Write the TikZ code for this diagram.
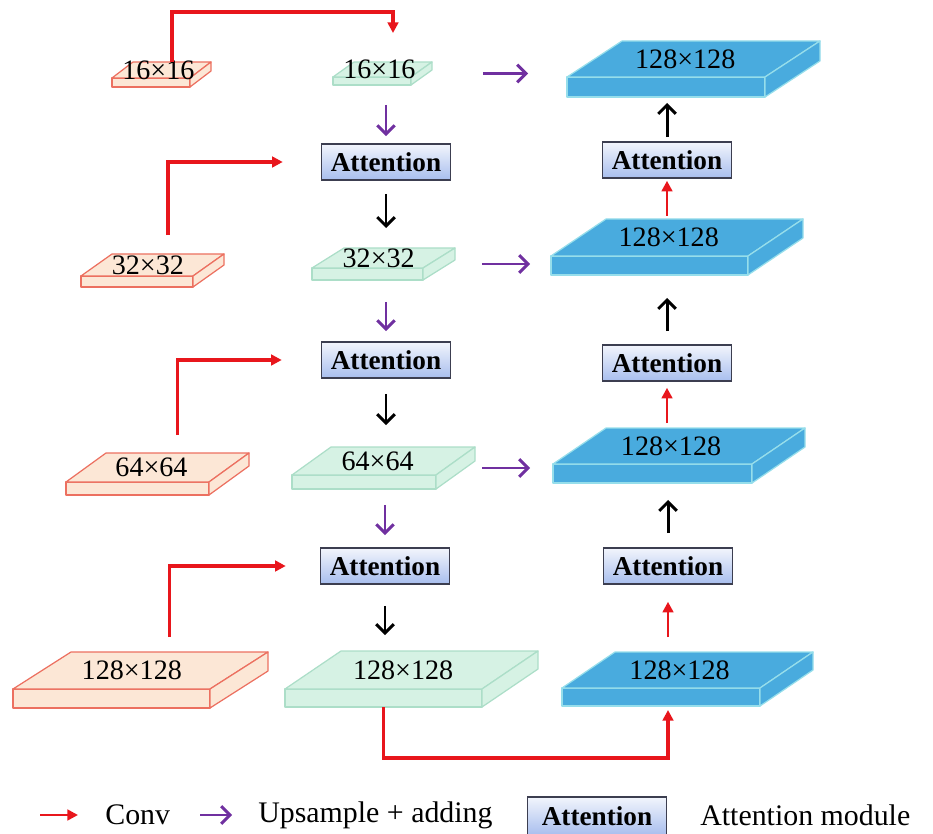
\documentclass[tikz,border=0pt]{standalone}
\usepackage{fontspec}
\setmainfont{Liberation Serif}
\usetikzlibrary{arrows.meta}
\usetikzlibrary{calc}
\usetikzlibrary{positioning}

\definecolor{orfill}{RGB}{252,231,214}
\definecolor{ordraw}{RGB}{236,112,96}
\definecolor{grfill}{RGB}{214,242,228}
\definecolor{grdraw}{RGB}{172,222,200}
\definecolor{blfill}{RGB}{73,171,222}
\definecolor{bldraw}{RGB}{150,222,235}
\definecolor{convred}{RGB}{232,22,28}
\definecolor{upspurple}{RGB}{112,48,160}
\definecolor{attdraw}{RGB}{60,62,80}
\definecolor{atttop}{RGB}{242,245,252}
\definecolor{attbot}{RGB}{168,190,238}

\tikzset{
  orslab/.style={fill=orfill,draw=ordraw,line width=0.7pt,line join=round},
  grslab/.style={fill=grfill,draw=grdraw,line width=0.7pt,line join=round},
  blslab/.style={fill=blfill,draw=bldraw,line width=0.7pt,line join=round},
  slabtext/.style={inner sep=0pt,font=\fontsize{16}{18}\selectfont},
  attbox/.style={draw=attdraw,line width=0.9pt,top color=atttop,bottom color=attbot,
    minimum width=2.58cm,minimum height=0.72cm,inner sep=0pt,
    font=\fontsize{15.5}{17}\selectfont\bfseries},
  legtext/.style={inner sep=0pt,font=\fontsize{17}{19}\selectfont},
  conv/.style={convred,line width=2pt,-{Triangle[length=6pt,width=6pt]}},
  ups/.style={upspurple,line width=1.7pt,-{Straight Barb[length=5pt,width=10pt]}},
  blk/.style={black,line width=1.7pt,-{Straight Barb[length=5pt,width=10pt]}},
  gap/.style 2 args={shorten <={#1*0.569pt},shorten >={#2*0.569pt}},
}

% #1 style, #2 name, #3 x, #4 bottom y, #5 width, #6 height, #7 dx, #8 dy, #9 label
\newcommand\slab[9]{
  \draw[#1] (#3,#4) rectangle ++(#5,-#6);
  \draw[#1] (#3,#4-#6) -- ++(#5,0) -- ++(#7,-#8) -- ++(-#5,0) -- cycle;
  \draw[#1] (#3+#5,#4-#6) -- ++(#7,-#8) -- ++(0,#6) -- ++(-#7,#8) -- cycle;
  \node[slabtext] (#2) at (#3+#5/2+#7*0.35,#4-#6-#8/2) {#9};
  \coordinate (#2-n) at (#3+#5/2+#7,#4-#6-#8);
  \coordinate (#2-s) at (#3+#5/2,#4);
  \coordinate (#2-e) at (#3+#5+#7,#4-#6/2-#8/2);
  \coordinate (#2-w) at (#3,#4-#6/2);
}

\begin{document}
\begin{tikzpicture}[x=0.02cm,y=-0.02cm]
  \useasboundingbox (0,0) rectangle (933,834);

  % encoder side
  \slab{orslab}{o16}{112}{87}{78}{9}{21}{16}{16×16}
  \slab{orslab}{o32}{81}{287}{112}{11}{31}{22}{32×32}
  \slab{orslab}{o64}{66}{495}{143}{13}{40}{29}{64×64}
  \slab{orslab}{o128}{13}{708}{197}{19}{58}{37}{128×128}

  % upsampling path
  \slab{grslab}{g16}{333}{85}{78}{8}{21}{15}{16×16}
  \slab{grslab}{g32}{312}{280}{111}{12}{32}{20}{32×32}
  \slab{grslab}{g64}{292}{489}{144}{14}{39}{28}{64×64}
  \slab{grslab}{g128}{285}{707}{197}{18}{56}{38}{128×128}

  % output side
  \slab{blslab}{b1}{567}{97}{198}{20}{55}{36}{128×128}
  \slab{blslab}{b2}{551}{275}{197}{19}{55}{37}{128×128}
  \slab{blslab}{b3}{553}{483}{199}{19}{53}{36}{128×128}
  \slab{blslab}{b4}{562}{706}{198}{18}{53}{36}{128×128}

  \node[attbox] (att1) at (386,162) {Attention};
  \node[attbox] (att2) at (386,360) {Attention};
  \node[attbox] (att3) at (385,566) {Attention};
  \node[attbox] (att4) at (667,160) {Attention};
  \node[attbox] (att5) at (667,363) {Attention};
  \node[attbox] (att6) at (668,566) {Attention};

  % conv
  \draw[conv,gap={0}{29}] (o16-n) -- ++(0,-50) -| (g16-n);
  \draw[conv,gap={19}{38}] (o32-n) |- (att1);
  \draw[conv,gap={18}{39}] (o64-n) |- (att2);
  \draw[conv,gap={15}{34}] (o128-n) |- (att3);
  \draw[conv,gap={0}{4}] (g128-s) -- ++(0,51) -| (att6 |- b4-s);
  \draw[conv,line width=1.5pt,gap={15}{17}] (att6 |- b4-n) -- (att6);
  \draw[conv,line width=1.5pt,gap={5}{6}] (att5 |- b3-n) -- (att5);
  \draw[conv,line width=1.5pt,gap={3}{2}] (att4 |- b2-n) -- (att4);

  % upsample + adding
  \draw[ups,gap={20}{7}] (att1 |- g16-s) -- (att1);
  \draw[ups,gap={22}{10}] (att2 |- g32-s) -- (att2);
  \draw[ups,gap={16}{12}] (att3 |- g64-s) -- (att3);
  \draw[ups,gap={51}{39}] (g16-e) -- (g16-e -| b1-w);
  \draw[ups,gap={27}{21}] (g32-e) -- (g32-e -| b2-w);
  \draw[ups,gap={7}{23}] (g64-e) -- (g64-e -| b3-w);

  % attention outputs
  \draw[blk,gap={13}{20}] (att1) -- (att1 |- g32-n);
  \draw[blk,gap={15}{22}] (att2) -- (att2 |- g64-n);
  \draw[blk,gap={21}{16}] (att3) -- (att3 |- g128-n);
  \draw[blk,gap={14}{17}] (att6) -- (att6 |- b3-s);
  \draw[blk,gap={13}{23}] (att5) -- (att5 |- b2-s);
  \draw[blk,gap={4}{6}] (att4) -- (att4 |- b1-s);

  % legend
  \coordinate (lgred) at (40,815);
  \node[legtext,anchor=west] (lgconv) at (105,815) {Conv};
  \draw[conv,line width=1.5pt,gap={0}{27}] (lgred) -- (lgconv);
  \coordinate (lgups) at (200,815);
  \node[legtext,anchor=west] (lgupstext) at (258,815) {Upsample + adding};
  \draw[ups,gap={0}{26}] (lgups) -- (lgupstext);
  \node[attbox,minimum width=2.78cm,minimum height=0.76cm] (lgatt) at (597,816) {Attention};
  \node[legtext,anchor=west] (lgmod) at (700,815) {Attention module};

\end{tikzpicture}
\end{document}
